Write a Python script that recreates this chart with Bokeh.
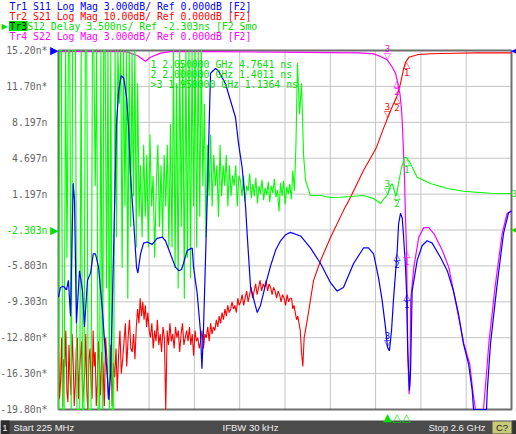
import numpy as np
from bokeh.plotting import figure
from bokeh.models import Range1d, Label
from bokeh.core.properties import value
from bokeh.embed import file_html
from bokeh.resources import INLINE

MONO = "DejaVu Sans Mono"
SYM = "DejaVu Sans"
SANS = "Liberation Sans"
BLUE, RED, GREEN, MAGENTA = "#0000ff", "#ff0000", "#00ff00", "#ff00ff"
GREEN_TXT = "#00dd00"

# ---------------- scale / axis data ----------------
f_start, f_stop = 0.225, 2.6          # GHz
delay_top, delay_bottom = 15.2, -19.8  # ns (screen scale of Tr3)
delay_per_div = 3.5
s11_per_div, s21_per_div, s22_per_div = 3.0, 10.0, 3.0

y_tick_values = [15.2, 11.7, 8.197, 4.697, 1.197, -2.303, -5.803, -9.303, -12.8, -16.3, -19.8]
y_tick_labels = ["15.20n*", "11.70n*", "8.197n", "4.697n", "1.197n", "-2.303n",
                 "-5.803n", "-9.303n", "-12.80n*", "-16.30n*", "-19.80n*"]
ref_delay = -2.303

header_lines = ["Tr1 S11 Log Mag 3.000dB/ Ref 0.000dB [F2]",
                "Tr2 S21 Log Mag 10.00dB/ Ref 0.000dB [F2]",
                "Tr3 S12 Delay 3.500ns/ Ref -2.303ns [F2 Smo",
                "Tr4 S22 Log Mag 3.000dB/ Ref 0.000dB [F2]"]
status_texts = ["Start 225 MHz", "IFBW 30 kHz", "Stop 2.6 GHz"]

marker_numbers = [1, 2, 3]
marker_freq_ghz = [2.05, 2.00, 1.95]
marker_delay_ns = [4.7641, 1.4011, 1.1364]
active_marker = 3

# ---------------- Tr1 S11 (dB) ----------------
s11_f = [0.225,0.235,0.251,0.267,0.277,0.288,0.302,0.309,0.319,0.335,
         0.351,0.361,0.377,0.393,0.407,0.419,0.435,0.454,0.466,0.480,
         0.489,0.498,0.507,0.515,0.529,0.541,0.554,0.567,0.582,0.594,
         0.602,0.620,0.634,0.641,0.655,0.671,0.690,0.716,0.742,0.769,
         0.786,0.812,0.838,0.856,0.870,0.880,0.900,0.926,0.933,0.952,
         0.969,0.977,0.985,1.005,1.022,1.048,1.064,1.101,1.127,1.153,
         1.169,1.188,1.206,1.214,1.232,1.267,1.284,1.310,1.337,1.363,
         1.389,1.415,1.441,1.494,1.546,1.599,1.651,1.686,1.719,1.772,
         1.824,1.850,1.877,1.903,1.922,1.939,1.950,1.960,1.971,1.981,
         2.001,2.008,2.018,2.027,2.034,2.044,2.050,2.056,2.065,2.071,
         2.079,2.106,2.132,2.158,2.184,2.228,2.263,2.296,2.322,2.348,
         2.375,2.394,2.401,2.469,2.473,2.490,2.525,2.558,2.584,2.600]
s11_db = [-20.6,-19.8,-19.7,-20.0,-19.2,-22.2,-11.1,-12.5,-22.8,-18.4,
          -20.1,-23.1,-19.2,-18.6,-17.0,-17.0,-18.1,-21.5,-24.2,-27.0,
          -29.2,-27.0,-21.5,-15.9,-6.1,-3.3,-2.1,-2.3,-3.9,-6.9,
          -10.3,-14.5,-18.1,-18.6,-17.0,-16.1,-16.0,-16.2,-15.7,-15.6,
          -15.9,-17.0,-18.1,-18.4,-18.3,-17.8,-16.7,-16.5,-18.1,-20.3,
          -23.4,-26.6,-23.4,-12.3,-1.9,-1.5,-1.7,-2.8,-4.2,-5.6,
          -7.8,-9.8,-13.1,-15.3,-19.8,-21.9,-21.3,-19.6,-18.0,-16.7,
          -15.9,-15.4,-15.2,-15.5,-16.5,-17.8,-19.4,-20.1,-19.8,-17.8,
          -16.5,-16.5,-17.0,-19.0,-20.9,-23.1,-24.8,-25.1,-23.4,-20.9,
          -16.7,-14.5,-13.6,-14.0,-15.5,-18.0,-20.3,-25.1,-28.4,-26.7,
          -20.1,-17.5,-16.3,-15.9,-16.1,-17.3,-18.4,-20.1,-22.0,-24.5,
          -26.2,-28.4,-30.0,-30.0,-28.4,-24.5,-19.5,-15.3,-13.6,-13.4]

# ---------------- Tr2 S21 (dB): noisy low band, read segment by segment ----------------
s21_segments = [
    (0.225, 0.445, [-84,-97,-92,-80,-99,-86,-88,-78,-95,-98,-82,-91,-96,-79,-87,-99,-93,-83,-80,-97,
                    -89,-85,-81,-98,-94,-90,-79,-95,-100,-86,-83,-92,-97,-78,-88,-84,-99,-93,-81,-87]),
    (0.445, 0.540, [-96,-84,-88,-99,-80,-86,-97,-93,-82,-99,-87,-91,-83,-95]),
    (0.540, 0.640, [-85,-78,-90,-86,-81,-76,-88,-80,-75,-83,-84,-79,-86,-77]),
    (0.640, 0.707, [-72,-76,-69,-74,-70,-75,-71,-77,-73,-78]),
    (0.707, 0.970, [-80,-76,-83,-78,-81,-75,-82,-79,-84,-77,-80,-100,-78,-82,-76,-81,-79,-83,-77,-80,
                    -78,-84,-79,-76,-82,-80,-78,-81,-77,-82,-79,-85,-78,-81,-80,-83]),
    (0.970, 1.180, [-81,-78,-83,-79,-80,-77,-81,-76,-79,-77,-78,-75,-77,-74,-76,-73,-75,-72,-74,-71,
                    -73,-72,-70,-72,-71,-73,-69,-71]),
    (1.180, 1.447, [-70,-68,-71,-69,-67,-70,-68,-66,-69,-67,-65,-68,-66,-64,-67,-65,-66,-64,-67,-65,
                    -66,-68,-66,-67,-69,-67,-68,-70,-68,-69,-71,-68,-70,-69]),
    (1.447, 1.499, [-69,-72,-71,-73,-75,-74,-76,-78]),
    (1.499, 1.520, [-84,-88,-80]),
]
s21_smooth_f = [1.529,1.562,1.599,1.651,1.719,1.756,1.824,1.892,1.929,1.966,2.001,
                2.018,2.032,2.044,2.062,2.112,2.175,2.296,2.420,2.577,2.600]
s21_smooth_db = [-75.2,-64.1,-58.5,-52.1,-44.6,-40.9,-33.4,-27.0,-21.7,-16.7,-12.5,
                 -9.2,-5.6,-3.3,-1.9,-1.1,-0.9,-0.75,-0.65,-0.65,-0.65]

# ---------------- Tr3 S12 group delay (ns) ----------------
s12_segments = [
    (0.225, 0.655, [-30,30,30,-30,-30,30,-5,30,30,-30,30,30,30,-30,-30,-30,30,-30,-30,30,
                    30,-30,-30,-30,30,30,2,30,-30,-30,30,-30,30,30,-8,30,-30,30,-30,-30,
                    30,-3,30,10,30,-6,30,0,30,-9,20,-2,15,1,25,-4,12,-1]),
    (0.655, 0.812, [4,-3,6,-1,5,-4,7,0,3,-5,2,6,-2,4,-3,5,0,6,-4]),
    (0.812, 1.006, [8,-4,16,-6,12,-8,20,-2,14,-9,25,-5,30,-7,30,0,30,-4,30,-1,22,2,10,-3]),
    (1.006, 1.179, [6,1,7,0,5,2,4,-1,6,1,4,2,5,0,4,1,3,2,4,0,3]),
    (1.179, 1.478, [2.5,1,3,0.5,2,1.5,3.2,0.8,2.2,1,2.8,0.3,2,1.2,2.6,0.6,1.8,1.1,2.4,0.4,
                    2,1.3,2.7,0.9,1.6,-0.5,2.3,1,2.5,0.2,1.9,1.2,2.2,0.7,3.5,1.5,6]),
    (1.478, 1.531, [14,9,12,5,2.5]),
]
s12_smooth_f = [1.546,1.60,1.65,1.70,1.756,1.824,1.877,1.913,1.93,1.95,
                1.965,1.975,1.985,1.993,2.0,2.01,2.025,2.04,2.05,2.07,
                2.105,2.175,2.263,2.348,2.49,2.6]
s12_smooth_ns = [1.06,1.06,0.87,0.9,0.97,1.06,0.77,0.28,0.7,1.1364,
                 2.0,2.2,1.6,1.0,1.4011,2.5,3.9,4.8,4.7641,4.18,
                 2.85,2.23,1.75,1.48,1.29,1.26]

# ---------------- Tr4 S22 (dB) ----------------
s22_f = [0.225,0.56,0.585,0.638,0.681,0.707,0.760,0.812,1.0,1.5,
         1.80,1.877,1.913,1.948,1.975,1.992,2.004,2.015,2.022,2.027,
         2.032,2.039,2.044,2.050,2.056,2.063,2.068,2.071,2.088,2.114,
         2.140,2.166,2.193,2.237,2.271,2.296,2.350,2.381,2.399,2.411,
         2.453,2.473,2.481,2.516,2.551,2.577,2.600]
s22_db = [-0.1,-0.1,-0.12,-0.42,-0.9,-0.56,-0.22,-0.1,-0.1,-0.15,
          -0.2,-0.28,-0.5,-0.78,-1.4,-1.9,-2.76,-3.6,-4.7,-5.85,
          -7.8,-10.5,-13.9,-16.7,-25.1,-28.7,-27.6,-20.9,-18.1,-15.6,
          -14.8,-14.8,-15.3,-16.7,-18.1,-20.1,-24.5,-26.2,-28.7,-30.0,
          -30.0,-26.2,-24.5,-19.5,-15.3,-13.6,-13.4]

# ---------------- build screen values ----------------
def to_screen(vals, per_div):
    return delay_top + np.asarray(vals, dtype=float) / per_div * delay_per_div

def clip(v):
    return np.clip(np.asarray(v, dtype=float), delay_bottom, delay_top)

def seg_freqs(segments):
    return np.concatenate([np.linspace(a, b, len(v), endpoint=False) for a, b, v in segments])

def seg_vals(segments):
    return np.concatenate([np.asarray(v, dtype=float) for a, b, v in segments])

s21_f_all = np.concatenate([seg_freqs(s21_segments), s21_smooth_f])
s21_all = np.concatenate([seg_vals(s21_segments), s21_smooth_db])
s12_f_all = np.concatenate([seg_freqs(s12_segments), s12_smooth_f])
s12_all = np.concatenate([seg_vals(s12_segments), s12_smooth_ns])
s11_f_arr = np.asarray(s11_f, dtype=float)
s22_f_arr = np.asarray(s22_f, dtype=float)

y_s11 = clip(to_screen(s11_db, s11_per_div))
y_s21 = clip(to_screen(s21_all, s21_per_div))
y_s12 = clip(s12_all)
y_s22 = clip(to_screen(s22_db, s22_per_div))

# ---------------- page geometry (pixels) ----------------
W, H = 516, 434
GL, GR, GT, GB = 58, 511, 50, 409          # graticule box
fx = (f_stop - f_start) / (GR - GL)         # GHz per pixel
fy = (delay_top - delay_bottom) / (GB - GT) # ns per pixel
x_lo, x_hi = f_start - GL * fx, f_stop + (W - GR) * fx
y_lo, y_hi = delay_bottom - (H - GB) * fy, delay_top + GT * fy

def px_x(px):
    return x_lo + px * fx

def px_y(py):
    return y_hi - py * fy

p = figure(width=W, height=H, x_range=Range1d(x_lo, x_hi), y_range=Range1d(y_lo, y_hi),
           x_axis_type=None, y_axis_type=None, min_border=0,
           min_border_left=0, min_border_right=0, min_border_top=0, min_border_bottom=0,
           outline_line_color=None, background_fill_color="white", border_fill_color="white",
           output_backend="svg", toolbar_location=None)

# graticule
x_div = [f_start + k * (f_stop - f_start) / 10 for k in range(1, 10)]
p.segment(x0=x_div, y0=[delay_bottom] * 9, x1=x_div, y1=[delay_top] * 9,
          line_color="#c4c4c4", line_width=1)
inner_y = y_tick_values[1:-1]
p.segment(x0=[f_start] * len(inner_y), y0=inner_y, x1=[f_stop] * len(inner_y), y1=inner_y,
          line_color="#c4c4c4", line_width=1)
p.quad(left=[f_start], right=[f_stop], bottom=[delay_bottom], top=[delay_top],
       fill_color=None, line_color="#6e6e6e", line_width=2)

# y scale labels
for v, lab in zip(y_tick_values, y_tick_labels):
    p.add_layout(Label(x=f_start, y=v, text=lab, x_offset=-11, text_align="right",
                       text_baseline="middle", text_font=MONO, text_font_size="9.8px",
                       text_color=GREEN_TXT if v == ref_delay else "#666666"))

# traces
p.line(s21_f_all, y_s21, line_color=RED, line_width=1.1)
p.line(s22_f_arr, y_s22, line_color=MAGENTA, line_width=1.2)
p.line(s12_f_all, y_s12, line_color=GREEN, line_width=1.1)
p.line(s11_f_arr, y_s11, line_color=BLUE, line_width=1.2)

# markers on each trace
traces = [(s21_f_all, y_s21, RED), (s22_f_arr, y_s22, MAGENTA),
          (s12_f_all, y_s12, GREEN_TXT), (s11_f_arr, y_s11, BLUE)]
for f_arr, y_arr, col in traces:
    for num, mf in zip(marker_numbers, marker_freq_ghz):
        my = float(np.interp(mf, f_arr, y_arr))
        above = (num == 3)
        p.add_layout(Label(x=mf, y=my, text="▽" if above else "△",
                           text_align="center", text_baseline="bottom" if above else "top",
                           y_offset=-1 if above else 1,
                           text_font=SYM, text_font_size="9px", text_color=col))
        p.add_layout(Label(x=mf, y=my, text=str(num), text_align="center",
                           text_baseline="bottom" if above else "top",
                           y_offset=8 if above else -8,
                           text_font=MONO, text_font_size="9px", text_color=col))

# marker readout
for i, (num, mf, md) in enumerate(zip(marker_numbers, marker_freq_ghz, marker_delay_ns)):
    prefix = ">" if num == active_marker else " "
    p.add_layout(Label(x=f_start, y=delay_top, x_offset=92, y_offset=-(14 + 10 * i),
                       text=f"{prefix}{num}  {mf:.6f} GHz  {md:.4f} ns",
                       text_baseline="middle", text_align="left",
                       text_font=MONO, text_font_size="9.8px", text_color=GREEN_TXT))

# marker indicators under the graticule
for num, mf in zip(marker_numbers, marker_freq_ghz):
    p.add_layout(Label(x=mf, y=delay_bottom, y_offset=-1,
                       text="▲" if num == active_marker else "△",
                       text_align="center", text_baseline="top",
                       text_font=SYM, text_font_size="11px", text_color="#00e000"))

# reference position arrows
p.add_layout(Label(x=f_start, y=delay_top, text="▶", text_align="right", text_baseline="middle",
                   text_font=SYM, text_font_size="11px", text_color=BLUE))
p.add_layout(Label(x=f_start, y=ref_delay, text="▶", text_align="right", text_baseline="middle",
                   text_font=SYM, text_font_size="11px", text_color="#00e000"))
p.add_layout(Label(x=f_stop, y=delay_top, text="◀", text_align="left", text_baseline="middle",
                   x_offset=-0.5, text_font=SYM, text_font_size="7px", text_color=BLUE))
p.add_layout(Label(x=f_stop, y=ref_delay, text="◀", text_align="left", text_baseline="middle",
                   x_offset=-0.5, text_font=SYM, text_font_size="7px", text_color="#00e000"))
p.add_layout(Label(x=f_stop, y=float(y_s12[-1]), text="3", x_offset=0, text_align="left",
                   text_baseline="middle", text_font=MONO, text_font_size="8.5px",
                   text_color=GREEN_TXT))

# ---------------- header (trace status lines) ----------------
CW = 0.6021 * 9.8
line_y = [5.5, 15.5, 25.5, 35.5]
hx = 9
p.quad(left=[px_x(hx - 0.5)], right=[px_x(hx + 3 * CW + 0.5)],
       top=[px_y(line_y[2] - 5)], bottom=[px_y(line_y[2] + 5)],
       fill_color="#00e000", line_color=None)
p.text(x=[px_x(1)], y=[px_y(line_y[2])], text=["▶"], text_color="#00e000",
       text_font=value(SYM), text_font_size=value("8px"), text_baseline="middle")
head_colors = [BLUE, RED, None, MAGENTA]
for i, (line, col) in enumerate(zip(header_lines, head_colors)):
    if col is None:
        p.text(x=[px_x(hx)], y=[px_y(line_y[i])], text=[line[:3]], text_color="#101010",
               text_font=value(MONO), text_font_size=value("9.8px"), text_baseline="middle")
        p.text(x=[px_x(hx + 3 * CW)], y=[px_y(line_y[i])], text=[line[3:]], text_color=GREEN_TXT,
               text_font=value(MONO), text_font_size=value("9.8px"), text_baseline="middle")
    else:
        p.text(x=[px_x(hx)], y=[px_y(line_y[i])], text=[line], text_color=col,
               text_font=value(MONO), text_font_size=value("9.8px"), text_baseline="middle")

# ---------------- status bar ----------------
SB_T, SB_B = 420, 434
p.quad(left=[px_x(0)], right=[px_x(W)], top=[px_y(SB_T)], bottom=[px_y(SB_B)],
       fill_color="#4b4b4b", line_color=None)
p.quad(left=[px_x(0)], right=[px_x(9)], top=[px_y(SB_T)], bottom=[px_y(SB_B)],
       fill_color="#2c2c2c", line_color=None)
p.quad(left=[px_x(492)], right=[px_x(511)], top=[px_y(SB_T + 1)], bottom=[px_y(SB_B - 1)],
       fill_color="#c9c97a", line_color=None)
p.quad(left=[px_x(512)], right=[px_x(W)], top=[px_y(SB_T)], bottom=[px_y(SB_B)],
       fill_color="#333333", line_color=None)
sb_mid = px_y((SB_T + SB_B) / 2)
p.text(x=[px_x(4.5)], y=[sb_mid], text=["1"], text_color="#f0f0f0", text_align="center",
       text_baseline="middle", text_font=value(SANS), text_font_size=value("9.5px"))
p.text(x=[px_x(13), px_x(250), px_x(485)], y=[sb_mid] * 3, text=status_texts,
       text_color="#eeeeee", text_align=["left", "center", "right"], text_baseline="middle",
       text_font=value(SANS), text_font_size=value("9.5px"))
p.text(x=[px_x(501.5)], y=[sb_mid], text=["C?"], text_color="#222222", text_align="center",
       text_baseline="middle", text_font=value(SANS), text_font_size=value("9.5px"))

open("out.html", "w").write(file_html(p, INLINE))
